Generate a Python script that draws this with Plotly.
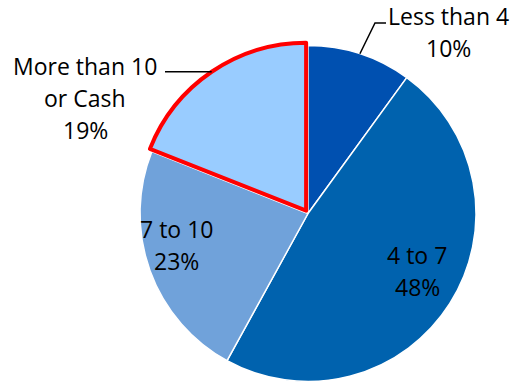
import math
import plotly.graph_objects as go

# ---- data ----
categories = ["Less than 4", "4 to 7", "7 to 10", "More than 10<br>or Cash"]
label_lines = [["Less than 4"], ["4 to 7"], ["7 to 10"], ["More than 10", "or Cash"]]
values = [10, 48, 23, 19]
colors = ["#0050B0", "#0062AE", "#70A2DA", "#99CCFF"]
line_colors = ["#FFFFFF", "#FFFFFF", "#FFFFFF", "#FF0000"]
line_widths = [1.5, 1.5, 1.5, 4]
pulls = [0, 0, 0, 0.02]

W, H = 510, 400          # figure a little taller than the 383px window
CX, CY, R = 308, 213.5, 168
maxpull = max(pulls)
half = R * (1 + maxpull)


def px(x):
    return x / W


def py(y):
    return 1 - y / H


fig = go.Figure(go.Pie(
    labels=categories,
    values=values,
    sort=False,
    direction="clockwise",
    rotation=0,
    pull=pulls,
    textinfo="none",
    hoverinfo="label+percent",
    marker=dict(colors=colors, line=dict(color=line_colors, width=line_widths)),
    domain=dict(x=[px(CX - half), px(CX + half)],
                y=[py(CY + half), py(CY - half)]),
    showlegend=False,
))

total = sum(values)
pcts = [round(100 * v / total) for v in values]

# label placement (pixel coords of line centres)
label_pos = [(448, 15), (417, 254), (176, 228), (85, 65)]
spacing = 32
font = dict(family="Open Sans", size=23, color="#000000")

annotations = []
for i, lines in enumerate(label_lines):
    x0, y0 = label_pos[i]
    texts = lines + [f"{pcts[i]}%"]
    for j, t in enumerate(texts):
        annotations.append(dict(
            text=t, x=px(x0), y=py(y0 + j * spacing + 1),
            xref="paper", yref="paper", xanchor="center", yanchor="middle",
            showarrow=False, font=font))


# leader lines from slice mid-angle edge points
def edge_point(i):
    start = sum(values[:i]) / total * 360
    mid = start + values[i] / total * 360 / 2
    a = math.radians(mid)
    r = R * (1 + pulls[i])
    return CX + r * math.sin(a), CY - r * math.cos(a)


shapes = []
ex, ey = edge_point(0)
path0 = f"M {px(386)} {py(23)} L {px(375)} {py(23)} L {px(ex)} {py(ey)}"
shapes.append(dict(type="path", path=path0, xref="paper", yref="paper",
                   line=dict(color="#000000", width=1.5)))
ex, ey = edge_point(3)
path3 = f"M {px(165)} {py(ey)} L {px(ex)} {py(ey)}"
shapes.append(dict(type="path", path=path3, xref="paper", yref="paper",
                   line=dict(color="#000000", width=1.5)))

fig.update_layout(
    width=W, height=H,
    margin=dict(l=0, r=0, t=0, b=0),
    paper_bgcolor="#FFFFFF",
    plot_bgcolor="#FFFFFF",
    annotations=annotations,
    shapes=shapes,
)

fig.write_html("out.html", config={"displayModeBar": False},
               post_script="document.body.style.margin='0';document.body.style.overflow='hidden';")
